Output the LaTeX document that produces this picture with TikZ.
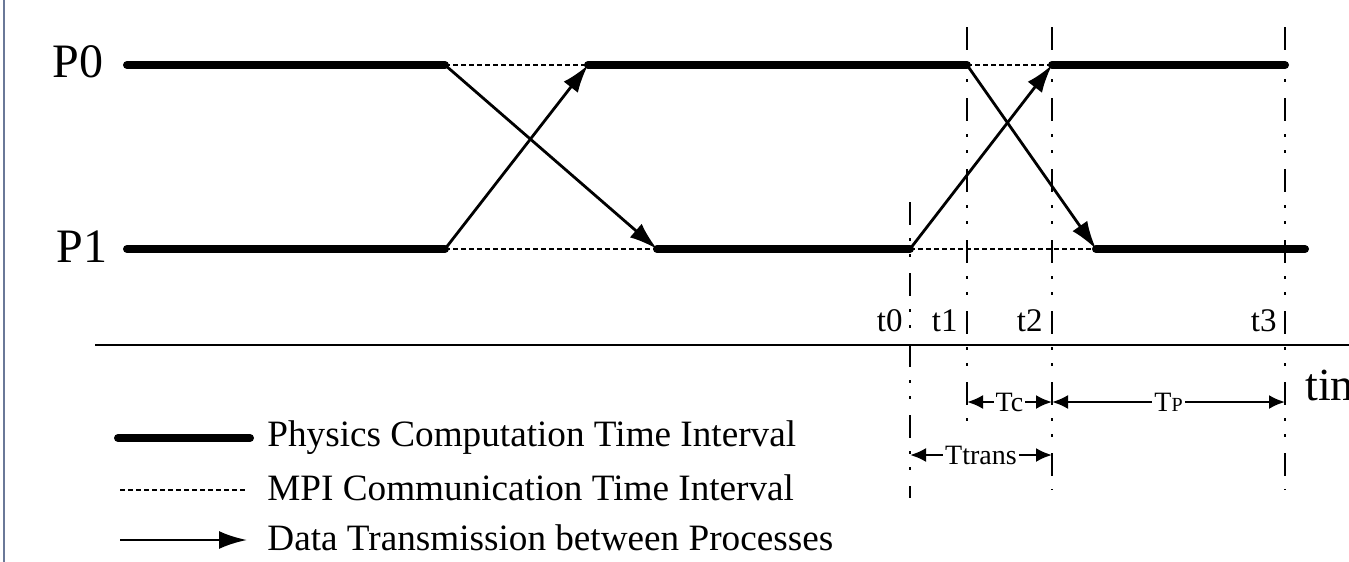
\documentclass[tikz,border=0pt]{standalone}
\usepackage{fontspec}
\setmainfont{Liberation Serif}
\usetikzlibrary{arrows.meta}
\definecolor{frameBlue}{HTML}{6A7898}
\tikzset{
  comp line/.style={line width=4pt, line cap=round},
  comm line/.style={line width=1pt, dash pattern=on 2.5pt off 1.5pt},
  send arrow/.style={line width=1.4pt, -{Latex[length=14pt,width=9pt]}},
  time mark/.style={line width=1.2pt, dash pattern=on 11.5pt off 6.5pt on 1.5pt off 6.5pt on 1.5pt off 8pt},
  span arrow/.style={line width=1.2pt, {Latex[length=8pt,width=7pt]}-{Latex[length=8pt,width=7pt]}},
  proc label/.style={font=\fontsize{24}{24}\selectfont, inner sep=0pt},
  tick label/.style={font=\fontsize{16.5}{16.5}\selectfont, anchor=south east, inner sep=0pt},
  span label/.style={font=\fontsize{14}{14}\selectfont, fill=white, inner sep=1pt},
  legend label/.style={font=\fontsize{18.6}{18.6}\selectfont, anchor=base west, inner sep=0pt},
}

\begin{document}
\begin{tikzpicture}[x=0.5pt,y=-0.5pt]
  \clip (0,0) rectangle (1349,562);
  % frame edge on the left
  \coordinate (fr top) at (4,0);
  \coordinate (fr bot) at (4,562);
  \draw[frameBlue, line width=1pt] (fr top) -- (fr bot);
  % process labels
  \node[proc label] (P0) at (78,62) {P0};
  \node[proc label] (P1) at (82,247) {P1};
  % event points on P0 and P1
  \coordinate (p0s) at (127,65);
  \coordinate (p0a) at (445,65);
  \coordinate (p0b) at (588,65);
  \coordinate (p0c) at (967,65);
  \coordinate (p0d) at (1052,65);
  \coordinate (p0e) at (1285,65);
  \coordinate (p1s) at (127,249);
  \coordinate (p1a) at (445,249);
  \coordinate (p1b) at (657,249);
  \coordinate (p1c) at (910,249);
  \coordinate (p1d) at (1096,249);
  \coordinate (p1e) at (1305,249);
  % vertical time marks
  \foreach \n/\x/\ya/\yb in {0/910/202/498, 1/967/27/422, 2/1052/27/490, 3/1285/27/490}{
    \coordinate (v\n top) at (\x,\ya);
    \coordinate (v\n bot) at (\x,\yb);
    \draw[time mark] (v\n top) -- (v\n bot);
  }
  % computation and communication intervals
  \draw[comp line] (p0s) -- (p0a);
  \draw[comm line] (p0a) -- (p0b);
  \draw[comp line] (p0b) -- (p0c);
  \draw[comm line] (p0c) -- (p0d);
  \draw[comp line] (p0d) -- (p0e);
  \draw[comp line] (p1s) -- (p1a);
  \draw[comm line] (p1a) -- (p1b);
  \draw[comp line] (p1b) -- (p1c);
  \draw[comm line] (p1c) -- (p1d);
  \draw[comp line] (p1d) -- (p1e);
  % data transmission
  \draw[send arrow] (p0a) -- (p1b);
  \draw[send arrow] (p1a) -- (p0b);
  \draw[send arrow] (p1c) -- (p0d);
  \draw[send arrow] (p0c) -- (p1d);
  % time axis
  \coordinate (axis l) at (95,345);
  \coordinate (axis r) at (1349,345);
  \draw[line width=1.2pt] (axis l) -- (axis r);
  \node[tick label] (t0) at (903,332) {t0};
  \node[tick label] (t1) at (958,332) {t1};
  \node[tick label] (t2) at (1043,332) {t2};
  \node[tick label] (t3) at (1277,332) {t3};
  \node[font=\fontsize{23}{23}\selectfont, anchor=base west, inner sep=0pt] (time) at (1305,400) {time};
  % interval spans
  \coordinate (tc l) at (967,402);
  \coordinate (tc r) at (1052,402);
  \coordinate (tp l) at (1052,402);
  \coordinate (tp r) at (1285,402);
  \coordinate (tt l) at (910,455);
  \coordinate (tt r) at (1052,455);
  \draw[span arrow] (tc l) -- node[span label] (Tc) {Tc} (tc r);
  \draw[span arrow] (tp l) -- node[span label] (Tp) {T{\fontsize{10}{10}\selectfont P}} (tp r);
  \draw[span arrow] (tt l) -- node[span label] (Ttrans) {Ttrans} (tt r);
  % legend
  \coordinate (lg1 a) at (118,438);
  \coordinate (lg1 b) at (250,438);
  \coordinate (lg2 a) at (120,490);
  \coordinate (lg2 b) at (245,490);
  \coordinate (lg3 a) at (120,540);
  \coordinate (lg3 b) at (247,540);
  \draw[comp line] (lg1 a) -- (lg1 b);
  \draw[comm line] (lg2 a) -- (lg2 b);
  \draw[send arrow] (lg3 a) -- (lg3 b);
  \node[legend label] (lg1) at (267,446) {Physics Computation Time Interval};
  \node[legend label] (lg2) at (267,500) {MPI Communication Time Interval};
  \node[legend label] (lg3) at (267,550) {Data Transmission between Processes};
\end{tikzpicture}
\end{document}
